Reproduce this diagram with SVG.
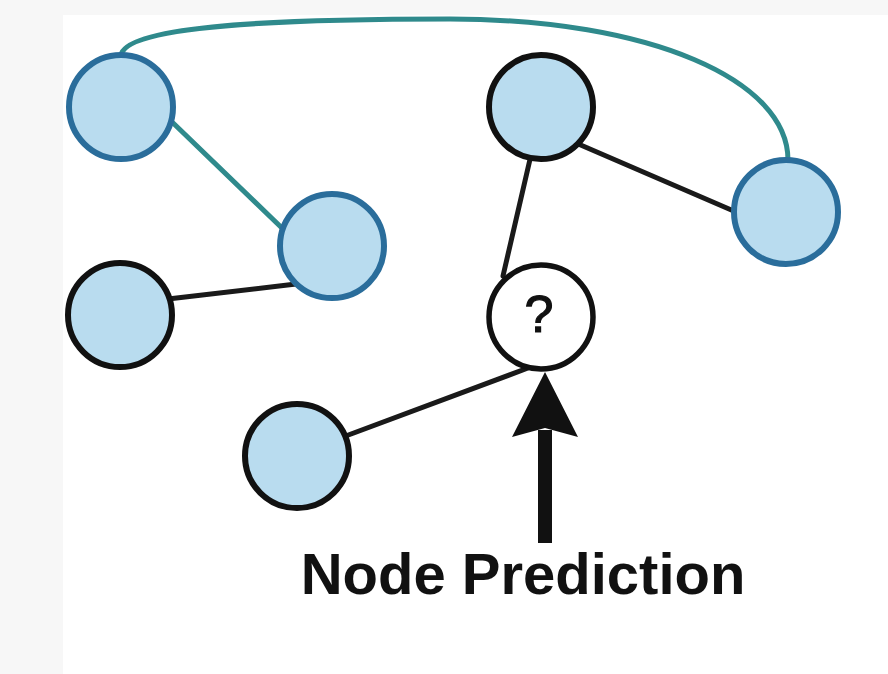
<svg xmlns="http://www.w3.org/2000/svg" width="888" height="674" viewBox="0 0 888 674">
<defs>
<style>
.bg{fill:#f7f7f7}
.panel{fill:#ffffff}
.blue{fill:#b9dcef;stroke:#2a6d9b;stroke-width:6}
.dark{fill:#b9dcef;stroke:#111111;stroke-width:6}
.query{fill:#ffffff;stroke:#111111;stroke-width:5.5}
.teal{fill:none;stroke:#2f8a8c;stroke-width:5;stroke-linecap:round}
.black{fill:none;stroke:#1a1a1a;stroke-width:5;stroke-linecap:round}
.label{font-family:"Liberation Sans",Arial,sans-serif;font-weight:bold;fill:#111111}
.qmark{font-family:"Liberation Sans",Arial,sans-serif;fill:#111111;stroke:#111111;stroke-width:1.2}
</style>
</defs>
<rect class="bg" x="0" y="0" width="888" height="674"/>
<rect class="panel" x="63" y="15" width="825" height="659"/>
<g id="connectors">
<path class="teal" d="M121,55 C126,28 250,19 450,19 C650,19 788,80 788,160"/>
<line class="teal" x1="170" y1="120" x2="284" y2="230"/>
<line class="black" x1="168" y1="299" x2="296" y2="284"/>
<line class="black" x1="576" y1="143" x2="736" y2="212"/>
<line class="black" x1="531" y1="155" x2="503" y2="276"/>
<line class="black" x1="343" y1="437" x2="528" y2="368"/>
</g>
<g id="node-a"><circle class="blue" cx="121" cy="107" r="52"/></g>
<g id="node-b"><circle class="blue" cx="332" cy="246" r="52"/></g>
<g id="node-c"><circle class="dark" cx="120" cy="315" r="52"/></g>
<g id="node-d"><circle class="dark" cx="541" cy="107" r="52"/></g>
<g id="node-e"><circle class="blue" cx="786" cy="212" r="52"/></g>
<g id="node-f"><circle class="dark" cx="297" cy="456" r="52"/></g>
<g id="node-q"><circle class="query" cx="541" cy="317" r="52"/>
<text class="qmark" x="539" y="332" font-size="52" text-anchor="middle">?</text></g>
<g id="arrow">
<rect x="538" y="430" width="14" height="113" fill="#111111"/>
<polygon points="545,372 578,437 545,428 512,437" fill="#111111"/>
</g>
<g id="caption"><text class="label" x="523" y="594" font-size="58" text-anchor="middle">Node Prediction</text></g>
</svg>
